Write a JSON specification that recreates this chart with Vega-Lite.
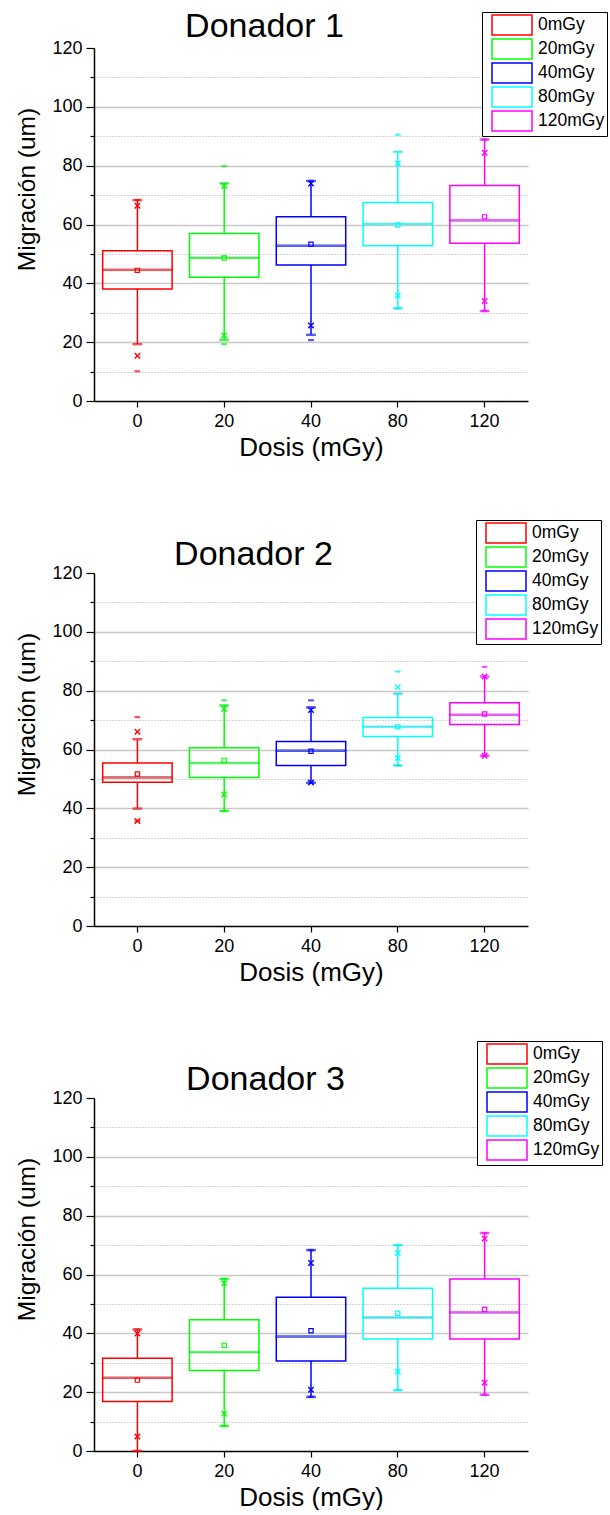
{
  "$schema": "https://vega.github.io/schema/vega-lite/v6.json",
  "padding": {"left": 13, "top": 9, "right": 0, "bottom": 0},
  "background": "white",
  "config": {"view": {"stroke": null}, "font": "Liberation Sans"},
  "datasets": {
    "stats": [
      {"donor": 1, "dose": "0", "grp": "0mGy", "q1": 38.1, "q3": 51.1, "med": 44.6, "mean": 44.4, "wlo": 19.3, "whi": 68.3, "p1": 15.4, "p99": 66.4, "mn": 10.1, "mx": 68.3},
      {"donor": 1, "dose": "20", "grp": "20mGy", "q1": 42.1, "q3": 56.9, "med": 48.7, "mean": 48.6, "wlo": 20.8, "whi": 74.0, "p1": 22.3, "p99": 73.1, "mn": 19.3, "mx": 79.8},
      {"donor": 1, "dose": "40", "grp": "40mGy", "q1": 46.2, "q3": 62.6, "med": 52.8, "mean": 53.3, "wlo": 22.5, "whi": 74.8, "p1": 25.7, "p99": 73.9, "mn": 20.7, "mx": 74.8},
      {"donor": 1, "dose": "80", "grp": "80mGy", "q1": 52.8, "q3": 67.5, "med": 60.2, "mean": 59.8, "wlo": 31.5, "whi": 84.7, "p1": 35.9, "p99": 80.7, "mn": 31.5, "mx": 90.5},
      {"donor": 1, "dose": "120", "grp": "120mGy", "q1": 53.6, "q3": 73.3, "med": 61.4, "mean": 62.6, "wlo": 30.6, "whi": 88.9, "p1": 34.0, "p99": 84.4, "mn": 30.6, "mx": 88.9},
      {"donor": 2, "dose": "0", "grp": "0mGy", "q1": 48.9, "q3": 55.4, "med": 50.5, "mean": 51.7, "wlo": 39.9, "whi": 63.5, "p1": 35.7, "p99": 66.0, "mn": 35.7, "mx": 71.0},
      {"donor": 2, "dose": "20", "grp": "20mGy", "q1": 50.5, "q3": 60.6, "med": 55.4, "mean": 56.3, "wlo": 39.1, "whi": 75.0, "p1": 44.7, "p99": 73.8, "mn": 39.1, "mx": 76.7},
      {"donor": 2, "dose": "40", "grp": "40mGy", "q1": 54.6, "q3": 62.7, "med": 59.6, "mean": 59.4, "wlo": 48.7, "whi": 74.3, "p1": 48.8, "p99": 73.4, "mn": 48.7, "mx": 76.7},
      {"donor": 2, "dose": "80", "grp": "80mGy", "q1": 64.4, "q3": 70.9, "med": 67.7, "mean": 67.7, "wlo": 54.6, "whi": 79.0, "p1": 57.1, "p99": 81.2, "mn": 54.6, "mx": 86.5},
      {"donor": 2, "dose": "120", "grp": "120mGy", "q1": 68.5, "q3": 75.9, "med": 71.8, "mean": 72.1, "wlo": 57.9, "whi": 84.8, "p1": 57.9, "p99": 84.8, "mn": 57.8, "mx": 88.1},
      {"donor": 3, "dose": "0", "grp": "0mGy", "q1": 16.8, "q3": 31.5, "med": 24.9, "mean": 24.1, "wlo": 0.0, "whi": 41.3, "p1": 4.9, "p99": 39.9, "mn": 0.0, "mx": 41.3},
      {"donor": 3, "dose": "20", "grp": "20mGy", "q1": 27.4, "q3": 44.6, "med": 33.6, "mean": 35.9, "wlo": 8.5, "whi": 58.5, "p1": 12.7, "p99": 57.0, "mn": 8.5, "mx": 58.5},
      {"donor": 3, "dose": "40", "grp": "40mGy", "q1": 30.6, "q3": 52.3, "med": 38.9, "mean": 40.9, "wlo": 18.4, "whi": 68.3, "p1": 20.8, "p99": 63.9, "mn": 18.4, "mx": 68.3},
      {"donor": 3, "dose": "80", "grp": "80mGy", "q1": 38.1, "q3": 55.3, "med": 45.4, "mean": 46.8, "wlo": 20.7, "whi": 70.0, "p1": 27.0, "p99": 67.3, "mn": 20.7, "mx": 70.0},
      {"donor": 3, "dose": "120", "grp": "120mGy", "q1": 38.1, "q3": 58.5, "med": 47.1, "mean": 48.1, "wlo": 19.1, "whi": 74.1, "p1": 23.2, "p99": 72.2, "mn": 19.1, "mx": 74.1}
    ]
  },
  "bounds": "flush",
  "spacing": 172,
  "resolve": {"scale": {"stroke": "independent"}, "legend": {"stroke": "independent"}},
  "vconcat": [
    {
      "width": 434, "height": 353,
      "data": {"name": "stats"},
      "transform": [{"filter": "datum.donor == 1"}],
      "encoding": {
        "stroke": {"field": "grp", "type": "nominal", "scale": {"domain": ["0mGy", "20mGy", "40mGy", "80mGy", "120mGy"], "range": ["#ff0000", "#00ff00", "#0000ff", "#00ffff", "#ff00ff"]},
          "legend": {"orient": "none", "legendX": 388, "legendY": -36, "title": null, "symbolType": "M-2,-1H2V1H-2Z", "symbolSize": 400, "symbolStrokeWidth": 1.5, "symbolFillColor": "white", "labelFont": "Liberation Sans", "labelFontSize": 17.5, "labelColor": "black", "labelOffset": 15, "padding": 2, "rowPadding": -5.5, "strokeColor": "black", "fillColor": "white", "symbolOffset": 17}}
      },
      "resolve": {"axis": {"x": "independent", "y": "independent"}},
      "layer": [
        {
          "encoding": {
            "x": {"field": "dose", "type": "nominal", "sort": ["0", "20", "40", "80", "120"], "scale": {"paddingInner": 0, "paddingOuter": 0},
              "axis": {"orient": "bottom", "title": "Dosis (mGy)", "titleFont": "Liberation Sans", "titleFontSize": 26, "titleFontWeight": "normal", "titleColor": "black", "titleY": 54, "titleBaseline": "alphabetic", "labelAngle": 0, "labelFont": "Liberation Sans", "labelFontSize": 18, "labelColor": "black", "labelPadding": 5, "tickSize": 6, "tickColor": "black", "tickWidth": 1.2, "domainColor": "black", "domainWidth": 1.5, "grid": false}}
          },
          "layer": [
            {"mark": {"type": "rule", "strokeWidth": 1.5}, "encoding": {"y": {"field": "wlo", "type": "quantitative", "title": "Migración (um)", "scale": {"domain": [0, 120], "nice": false, "zero": false},
              "axis": {"orient": "left", "values": [0, 20, 40, 60, 80, 100, 120], "title": "Migración (um)", "titleFont": "Liberation Sans", "titleFontSize": 24.5, "titleFontWeight": "normal", "titleColor": "black", "titleX": -60, "titleY": 141, "titleBaseline": "alphabetic", "labelFont": "Liberation Sans", "labelFontSize": 18, "labelColor": "black", "labelPadding": 4, "labelOverlap": false,
                "tickSize": 8, "tickColor": "black", "tickWidth": 1.2, "domainColor": "black", "domainWidth": 1.5, "grid": true, "gridColor": "#c8c8c8", "gridWidth": 1.5,
                "gridOpacity": {"condition": {"test": "datum.value == 0 || datum.value == 120", "value": 0}, "value": 1}}},
              "y2": {"field": "q1"}}},
            {"mark": {"type": "rule", "strokeWidth": 1.5}, "encoding": {"y": {"field": "q3", "type": "quantitative", "title": "Migración (um)"}, "y2": {"field": "whi"}}},
            {"mark": {"type": "bar", "width": {"band": 0.8}, "fill": "transparent", "strokeWidth": 1.5}, "encoding": {"y": {"field": "q1", "type": "quantitative", "title": "Migración (um)"}, "y2": {"field": "q3"}}},
            {"mark": {"type": "tick", "size": 70, "thickness": 1.5}, "encoding": {"y": {"field": "med", "type": "quantitative", "title": "Migración (um)"}}},
            {"mark": {"type": "tick", "size": 9, "thickness": 1.5}, "encoding": {"y": {"field": "wlo", "type": "quantitative", "title": "Migración (um)"}}},
            {"mark": {"type": "tick", "size": 9, "thickness": 1.5}, "encoding": {"y": {"field": "whi", "type": "quantitative", "title": "Migración (um)"}}},
            {"mark": {"type": "tick", "size": 5, "thickness": 1.2}, "encoding": {"y": {"field": "mn", "type": "quantitative", "title": "Migración (um)"}}},
            {"mark": {"type": "tick", "size": 5, "thickness": 1.2}, "encoding": {"y": {"field": "mx", "type": "quantitative", "title": "Migración (um)"}}},
            {"mark": {"type": "point", "shape": "M-1,-1L1,1M-1,1L1,-1", "size": 30, "filled": false, "strokeWidth": 1.4, "opacity": 1}, "encoding": {"y": {"field": "p1", "type": "quantitative", "title": "Migración (um)"}}},
            {"mark": {"type": "point", "shape": "M-1,-1L1,1M-1,1L1,-1", "size": 30, "filled": false, "strokeWidth": 1.4, "opacity": 1}, "encoding": {"y": {"field": "p99", "type": "quantitative", "title": "Migración (um)"}}}
          ]
        },
        {"mark": {"type": "point", "shape": "square", "size": 18, "filled": false, "strokeWidth": 1.2, "opacity": 1},
          "encoding": {
            "x": {"field": "dose", "type": "nominal", "sort": ["0", "20", "40", "80", "120"], "scale": {"paddingInner": 0, "paddingOuter": 0},
              "axis": {"orient": "top", "title": "Donador 1", "titleFont": "Liberation Sans", "titleFontSize": 34, "titleFontWeight": "normal", "titleColor": "black", "titleX": 170, "titleY": -12, "titleBaseline": "alphabetic", "titleAlign": "center", "labels": false, "ticks": false, "domain": false, "grid": false}},
            "y": {"field": "mean", "type": "quantitative",
              "axis": {"orient": "left", "title": null, "values": [10, 30, 50, 70, 90, 110], "labels": false, "domain": false, "tickSize": 4, "tickColor": "black", "tickWidth": 1.2, "grid": true, "gridColor": "#a8a8a8", "gridWidth": 1, "gridDash": [1, 2]}}}}
      ]
    },
    {
      "width": 434, "height": 353,
      "data": {"name": "stats"},
      "transform": [{"filter": "datum.donor == 2"}],
      "encoding": {
        "stroke": {"field": "grp", "type": "nominal", "scale": {"domain": ["0mGy", "20mGy", "40mGy", "80mGy", "120mGy"], "range": ["#ff0000", "#00ff00", "#0000ff", "#00ffff", "#ff00ff"]},
          "legend": {"orient": "none", "legendX": 382, "legendY": -53, "title": null, "symbolType": "M-2,-1H2V1H-2Z", "symbolSize": 400, "symbolStrokeWidth": 1.5, "symbolFillColor": "white", "labelFont": "Liberation Sans", "labelFontSize": 17.5, "labelColor": "black", "labelOffset": 15, "padding": 2, "rowPadding": -5.5, "strokeColor": "black", "fillColor": "white", "symbolOffset": 17}}
      },
      "resolve": {"axis": {"x": "independent", "y": "independent"}},
      "layer": [
        {
          "encoding": {
            "x": {"field": "dose", "type": "nominal", "sort": ["0", "20", "40", "80", "120"], "scale": {"paddingInner": 0, "paddingOuter": 0},
              "axis": {"orient": "bottom", "title": "Dosis (mGy)", "titleFont": "Liberation Sans", "titleFontSize": 26, "titleFontWeight": "normal", "titleColor": "black", "titleY": 54, "titleBaseline": "alphabetic", "labelAngle": 0, "labelFont": "Liberation Sans", "labelFontSize": 18, "labelColor": "black", "labelPadding": 5, "tickSize": 6, "tickColor": "black", "tickWidth": 1.2, "domainColor": "black", "domainWidth": 1.5, "grid": false}}
          },
          "layer": [
            {"mark": {"type": "rule", "strokeWidth": 1.5}, "encoding": {"y": {"field": "wlo", "type": "quantitative", "title": "Migración (um)", "scale": {"domain": [0, 120], "nice": false, "zero": false},
              "axis": {"orient": "left", "values": [0, 20, 40, 60, 80, 100, 120], "title": "Migración (um)", "titleFont": "Liberation Sans", "titleFontSize": 24.5, "titleFontWeight": "normal", "titleColor": "black", "titleX": -60, "titleY": 141, "titleBaseline": "alphabetic", "labelFont": "Liberation Sans", "labelFontSize": 18, "labelColor": "black", "labelPadding": 4, "labelOverlap": false,
                "tickSize": 8, "tickColor": "black", "tickWidth": 1.2, "domainColor": "black", "domainWidth": 1.5, "grid": true, "gridColor": "#c8c8c8", "gridWidth": 1.5,
                "gridOpacity": {"condition": {"test": "datum.value == 0 || datum.value == 120", "value": 0}, "value": 1}}},
              "y2": {"field": "q1"}}},
            {"mark": {"type": "rule", "strokeWidth": 1.5}, "encoding": {"y": {"field": "q3", "type": "quantitative", "title": "Migración (um)"}, "y2": {"field": "whi"}}},
            {"mark": {"type": "bar", "width": {"band": 0.8}, "fill": "transparent", "strokeWidth": 1.5}, "encoding": {"y": {"field": "q1", "type": "quantitative", "title": "Migración (um)"}, "y2": {"field": "q3"}}},
            {"mark": {"type": "tick", "size": 70, "thickness": 1.5}, "encoding": {"y": {"field": "med", "type": "quantitative", "title": "Migración (um)"}}},
            {"mark": {"type": "tick", "size": 9, "thickness": 1.5}, "encoding": {"y": {"field": "wlo", "type": "quantitative", "title": "Migración (um)"}}},
            {"mark": {"type": "tick", "size": 9, "thickness": 1.5}, "encoding": {"y": {"field": "whi", "type": "quantitative", "title": "Migración (um)"}}},
            {"mark": {"type": "tick", "size": 5, "thickness": 1.2}, "encoding": {"y": {"field": "mn", "type": "quantitative", "title": "Migración (um)"}}},
            {"mark": {"type": "tick", "size": 5, "thickness": 1.2}, "encoding": {"y": {"field": "mx", "type": "quantitative", "title": "Migración (um)"}}},
            {"mark": {"type": "point", "shape": "M-1,-1L1,1M-1,1L1,-1", "size": 30, "filled": false, "strokeWidth": 1.4, "opacity": 1}, "encoding": {"y": {"field": "p1", "type": "quantitative", "title": "Migración (um)"}}},
            {"mark": {"type": "point", "shape": "M-1,-1L1,1M-1,1L1,-1", "size": 30, "filled": false, "strokeWidth": 1.4, "opacity": 1}, "encoding": {"y": {"field": "p99", "type": "quantitative", "title": "Migración (um)"}}}
          ]
        },
        {"mark": {"type": "point", "shape": "square", "size": 18, "filled": false, "strokeWidth": 1.2, "opacity": 1},
          "encoding": {
            "x": {"field": "dose", "type": "nominal", "sort": ["0", "20", "40", "80", "120"], "scale": {"paddingInner": 0, "paddingOuter": 0},
              "axis": {"orient": "top", "title": "Donador 2", "titleFont": "Liberation Sans", "titleFontSize": 34, "titleFontWeight": "normal", "titleColor": "black", "titleX": 159, "titleY": -8.5, "titleBaseline": "alphabetic", "titleAlign": "center", "labels": false, "ticks": false, "domain": false, "grid": false}},
            "y": {"field": "mean", "type": "quantitative",
              "axis": {"orient": "left", "title": null, "values": [10, 30, 50, 70, 90, 110], "labels": false, "domain": false, "tickSize": 4, "tickColor": "black", "tickWidth": 1.2, "grid": true, "gridColor": "#a8a8a8", "gridWidth": 1, "gridDash": [1, 2]}}}}
      ]
    },
    {
      "width": 434, "height": 353,
      "data": {"name": "stats"},
      "transform": [{"filter": "datum.donor == 3"}],
      "encoding": {
        "stroke": {"field": "grp", "type": "nominal", "scale": {"domain": ["0mGy", "20mGy", "40mGy", "80mGy", "120mGy"], "range": ["#ff0000", "#00ff00", "#0000ff", "#00ffff", "#ff00ff"]},
          "legend": {"orient": "none", "legendX": 383, "legendY": -57, "title": null, "symbolType": "M-2,-1H2V1H-2Z", "symbolSize": 400, "symbolStrokeWidth": 1.5, "symbolFillColor": "white", "labelFont": "Liberation Sans", "labelFontSize": 17.5, "labelColor": "black", "labelOffset": 15, "padding": 2, "rowPadding": -5.5, "strokeColor": "black", "fillColor": "white", "symbolOffset": 17}}
      },
      "resolve": {"axis": {"x": "independent", "y": "independent"}},
      "layer": [
        {
          "encoding": {
            "x": {"field": "dose", "type": "nominal", "sort": ["0", "20", "40", "80", "120"], "scale": {"paddingInner": 0, "paddingOuter": 0},
              "axis": {"orient": "bottom", "title": "Dosis (mGy)", "titleFont": "Liberation Sans", "titleFontSize": 26, "titleFontWeight": "normal", "titleColor": "black", "titleY": 54, "titleBaseline": "alphabetic", "labelAngle": 0, "labelFont": "Liberation Sans", "labelFontSize": 18, "labelColor": "black", "labelPadding": 5, "tickSize": 6, "tickColor": "black", "tickWidth": 1.2, "domainColor": "black", "domainWidth": 1.5, "grid": false}}
          },
          "layer": [
            {"mark": {"type": "rule", "strokeWidth": 1.5}, "encoding": {"y": {"field": "wlo", "type": "quantitative", "title": "Migración (um)", "scale": {"domain": [0, 120], "nice": false, "zero": false},
              "axis": {"orient": "left", "values": [0, 20, 40, 60, 80, 100, 120], "title": "Migración (um)", "titleFont": "Liberation Sans", "titleFontSize": 24.5, "titleFontWeight": "normal", "titleColor": "black", "titleX": -60, "titleY": 141, "titleBaseline": "alphabetic", "labelFont": "Liberation Sans", "labelFontSize": 18, "labelColor": "black", "labelPadding": 4, "labelOverlap": false,
                "tickSize": 8, "tickColor": "black", "tickWidth": 1.2, "domainColor": "black", "domainWidth": 1.5, "grid": true, "gridColor": "#c8c8c8", "gridWidth": 1.5,
                "gridOpacity": {"condition": {"test": "datum.value == 0 || datum.value == 120", "value": 0}, "value": 1}}},
              "y2": {"field": "q1"}}},
            {"mark": {"type": "rule", "strokeWidth": 1.5}, "encoding": {"y": {"field": "q3", "type": "quantitative", "title": "Migración (um)"}, "y2": {"field": "whi"}}},
            {"mark": {"type": "bar", "width": {"band": 0.8}, "fill": "transparent", "strokeWidth": 1.5}, "encoding": {"y": {"field": "q1", "type": "quantitative", "title": "Migración (um)"}, "y2": {"field": "q3"}}},
            {"mark": {"type": "tick", "size": 70, "thickness": 1.5}, "encoding": {"y": {"field": "med", "type": "quantitative", "title": "Migración (um)"}}},
            {"mark": {"type": "tick", "size": 9, "thickness": 1.5}, "encoding": {"y": {"field": "wlo", "type": "quantitative", "title": "Migración (um)"}}},
            {"mark": {"type": "tick", "size": 9, "thickness": 1.5}, "encoding": {"y": {"field": "whi", "type": "quantitative", "title": "Migración (um)"}}},
            {"mark": {"type": "tick", "size": 5, "thickness": 1.2}, "encoding": {"y": {"field": "mn", "type": "quantitative", "title": "Migración (um)"}}},
            {"mark": {"type": "tick", "size": 5, "thickness": 1.2}, "encoding": {"y": {"field": "mx", "type": "quantitative", "title": "Migración (um)"}}},
            {"mark": {"type": "point", "shape": "M-1,-1L1,1M-1,1L1,-1", "size": 30, "filled": false, "strokeWidth": 1.4, "opacity": 1}, "encoding": {"y": {"field": "p1", "type": "quantitative", "title": "Migración (um)"}}},
            {"mark": {"type": "point", "shape": "M-1,-1L1,1M-1,1L1,-1", "size": 30, "filled": false, "strokeWidth": 1.4, "opacity": 1}, "encoding": {"y": {"field": "p99", "type": "quantitative", "title": "Migración (um)"}}}
          ]
        },
        {"mark": {"type": "point", "shape": "square", "size": 18, "filled": false, "strokeWidth": 1.2, "opacity": 1},
          "encoding": {
            "x": {"field": "dose", "type": "nominal", "sort": ["0", "20", "40", "80", "120"], "scale": {"paddingInner": 0, "paddingOuter": 0},
              "axis": {"orient": "top", "title": "Donador 3", "titleFont": "Liberation Sans", "titleFontSize": 34, "titleFontWeight": "normal", "titleColor": "black", "titleX": 171, "titleY": -9, "titleBaseline": "alphabetic", "titleAlign": "center", "labels": false, "ticks": false, "domain": false, "grid": false}},
            "y": {"field": "mean", "type": "quantitative",
              "axis": {"orient": "left", "title": null, "values": [10, 30, 50, 70, 90, 110], "labels": false, "domain": false, "tickSize": 4, "tickColor": "black", "tickWidth": 1.2, "grid": true, "gridColor": "#a8a8a8", "gridWidth": 1, "gridDash": [1, 2]}}}}
      ]
    }
  ]
}
